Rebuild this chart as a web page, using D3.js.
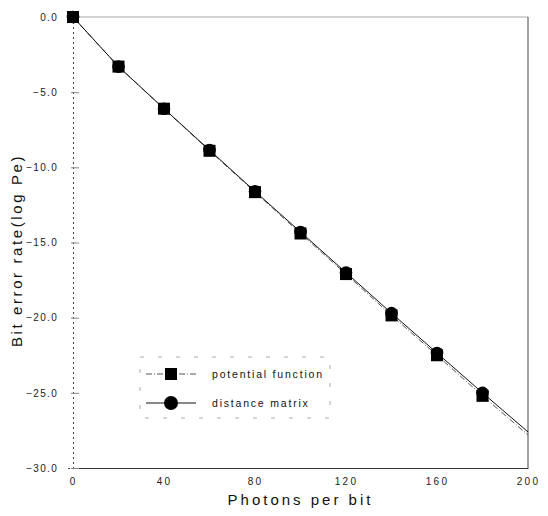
<!DOCTYPE html>
<html>
<head>
<meta charset="utf-8">
<script src="https://cdn.jsdelivr.net/npm/d3@7"></script>
<style>
body { margin: 0; background: #fff; }
text { font-family: "Liberation Sans", Arial, sans-serif; }
</style>
</head>
<body>
<div id="chart"></div>
<script>
var photons = [0, 20, 40, 60, 80, 100, 120, 140, 160, 180, 200];
var potentialFunction = [0, -3.3, -6.1, -8.9, -11.65, -14.4, -17.1, -19.85, -22.5, -25.2, -27.8];
var distanceMatrix = [0, -3.3, -6.1, -8.85, -11.6, -14.3, -17.0, -19.7, -22.35, -25.0, -27.6];
var xTicks = [0, 40, 80, 120, 160, 200];
var yTicks = [0, -5, -10, -15, -20, -25, -30];
var seriesNames = ["potential function", "distance matrix"];

var margin = {top: 17, right: 20, bottom: 48, left: 73},
    width = 548 - margin.left - margin.right,
    height = 516 - margin.top - margin.bottom;

var svg = d3.select("#chart")
    .append("svg")
    .attr("width", 548)
    .attr("height", 516)
    .append("g")
    .attr("transform", "translate(" + margin.left + "," + margin.top + ")");

var x = d3.scaleLinear().domain([0, 200]).range([0, width]);
var y = d3.scaleLinear().domain([-30, 0]).range([height, 0]);

// frame: top and right borders
svg.append("line")
    .attr("x1", 0).attr("x2", width).attr("y1", 0).attr("y2", 0)
    .attr("stroke", "#aaa").attr("stroke-width", 1.2);
svg.append("line")
    .attr("x1", width).attr("x2", width).attr("y1", 0).attr("y2", height)
    .attr("stroke", "#666").attr("stroke-width", 1.2);

// axes
var xAxis = svg.append("g")
    .attr("transform", "translate(0," + height + ")")
    .call(d3.axisBottom(x).tickValues(xTicks).tickSize(0).tickPadding(10)
        .tickFormat(d3.format("d")));
xAxis.select(".domain").attr("stroke", "#333").attr("stroke-width", 1.2);
xAxis.selectAll("text")
    .attr("font-size", 10)
    .attr("letter-spacing", 2.2)
    .attr("fill", "#222");

var yAxis = svg.append("g")
    .call(d3.axisLeft(y).tickValues(yTicks).tickSize(5).tickPadding(10)
        .tickFormat(function (d) { return d3.format(".1f")(d); }));
yAxis.select(".domain").attr("stroke", "#444").attr("stroke-width", 1)
    .attr("stroke-dasharray", "2,3");
yAxis.selectAll(".tick line").attr("stroke", "#888").attr("x2", 6).attr("x1", -2);
yAxis.selectAll("text")
    .attr("font-size", 10)
    .attr("letter-spacing", 1.3)
    .attr("fill", "#222");

// axis titles
svg.append("text")
    .attr("x", width / 2)
    .attr("y", height + 37)
    .attr("text-anchor", "middle")
    .attr("font-size", 15)
    .attr("letter-spacing", 3)
    .attr("fill", "#111")
    .text("Photons per bit");

svg.append("text")
    .attr("transform", "translate(" + (-51) + "," + (height / 2 + 8) + ") rotate(-90)")
    .attr("text-anchor", "middle")
    .attr("font-size", 15)
    .attr("letter-spacing", 2.6)
    .attr("fill", "#111")
    .text("Bit error rate(log Pe)");

// lines
var potData = photons.map(function (p, i) { return [p, potentialFunction[i]]; });
var distData = photons.map(function (p, i) { return [p, distanceMatrix[i]]; });

var line = d3.line()
    .x(function (d) { return x(d[0]); })
    .y(function (d) { return y(d[1]); });

svg.append("path")
    .datum(potData)
    .attr("d", line)
    .attr("fill", "none")
    .attr("stroke", "#555")
    .attr("stroke-width", 1)
    .attr("stroke-dasharray", "6,2,1,2");

svg.append("path")
    .datum(distData)
    .attr("d", line)
    .attr("fill", "none")
    .attr("stroke", "#111")
    .attr("stroke-width", 1);

// markers (no marker at the right edge)
var sq = 12;
svg.selectAll(".sq")
    .data(potData.filter(function (d) { return d[0] < 200; }))
    .enter()
    .append("rect")
    .attr("class", "sq")
    .attr("x", function (d) { return x(d[0]) - sq / 2; })
    .attr("y", function (d) { return y(d[1]) - sq / 2; })
    .attr("width", sq)
    .attr("height", sq)
    .attr("fill", "#000");

svg.selectAll(".ci")
    .data(distData.filter(function (d) { return d[0] < 200; }))
    .enter()
    .append("circle")
    .attr("class", "ci")
    .attr("cx", function (d) { return x(d[0]); })
    .attr("cy", function (d) { return y(d[1]); })
    .attr("r", 6.3)
    .attr("fill", "#000");

// legend
var legend = svg.append("g").attr("transform", "translate(" + (140 - margin.left) + "," + (357 - margin.top) + ")");
legend.append("rect")
    .attr("x", 0).attr("y", 0).attr("width", 190).attr("height", 61)
    .attr("fill", "none")
    .attr("stroke", "#999")
    .attr("stroke-width", 0.8)
    .attr("stroke-dasharray", "4,14");

legend.append("line")
    .attr("x1", 6).attr("x2", 56).attr("y1", 17).attr("y2", 17)
    .attr("stroke", "#555").attr("stroke-dasharray", "6,2,1,2");
legend.append("rect")
    .attr("x", 31 - sq / 2).attr("y", 17 - sq / 2).attr("width", sq).attr("height", sq)
    .attr("fill", "#000");
legend.append("line")
    .attr("x1", 6).attr("x2", 56).attr("y1", 46).attr("y2", 46)
    .attr("stroke", "#111");
legend.append("circle")
    .attr("cx", 31).attr("cy", 46).attr("r", 7)
    .attr("fill", "#000");

legend.selectAll(".lt")
    .data(seriesNames)
    .enter()
    .append("text")
    .attr("class", "lt")
    .attr("x", 72)
    .attr("y", function (d, i) { return 21 + i * 29; })
    .attr("font-size", 10.5)
    .attr("letter-spacing", 1.8)
    .attr("fill", "#111")
    .text(function (d) { return d; });
</script>
</body>
</html>
